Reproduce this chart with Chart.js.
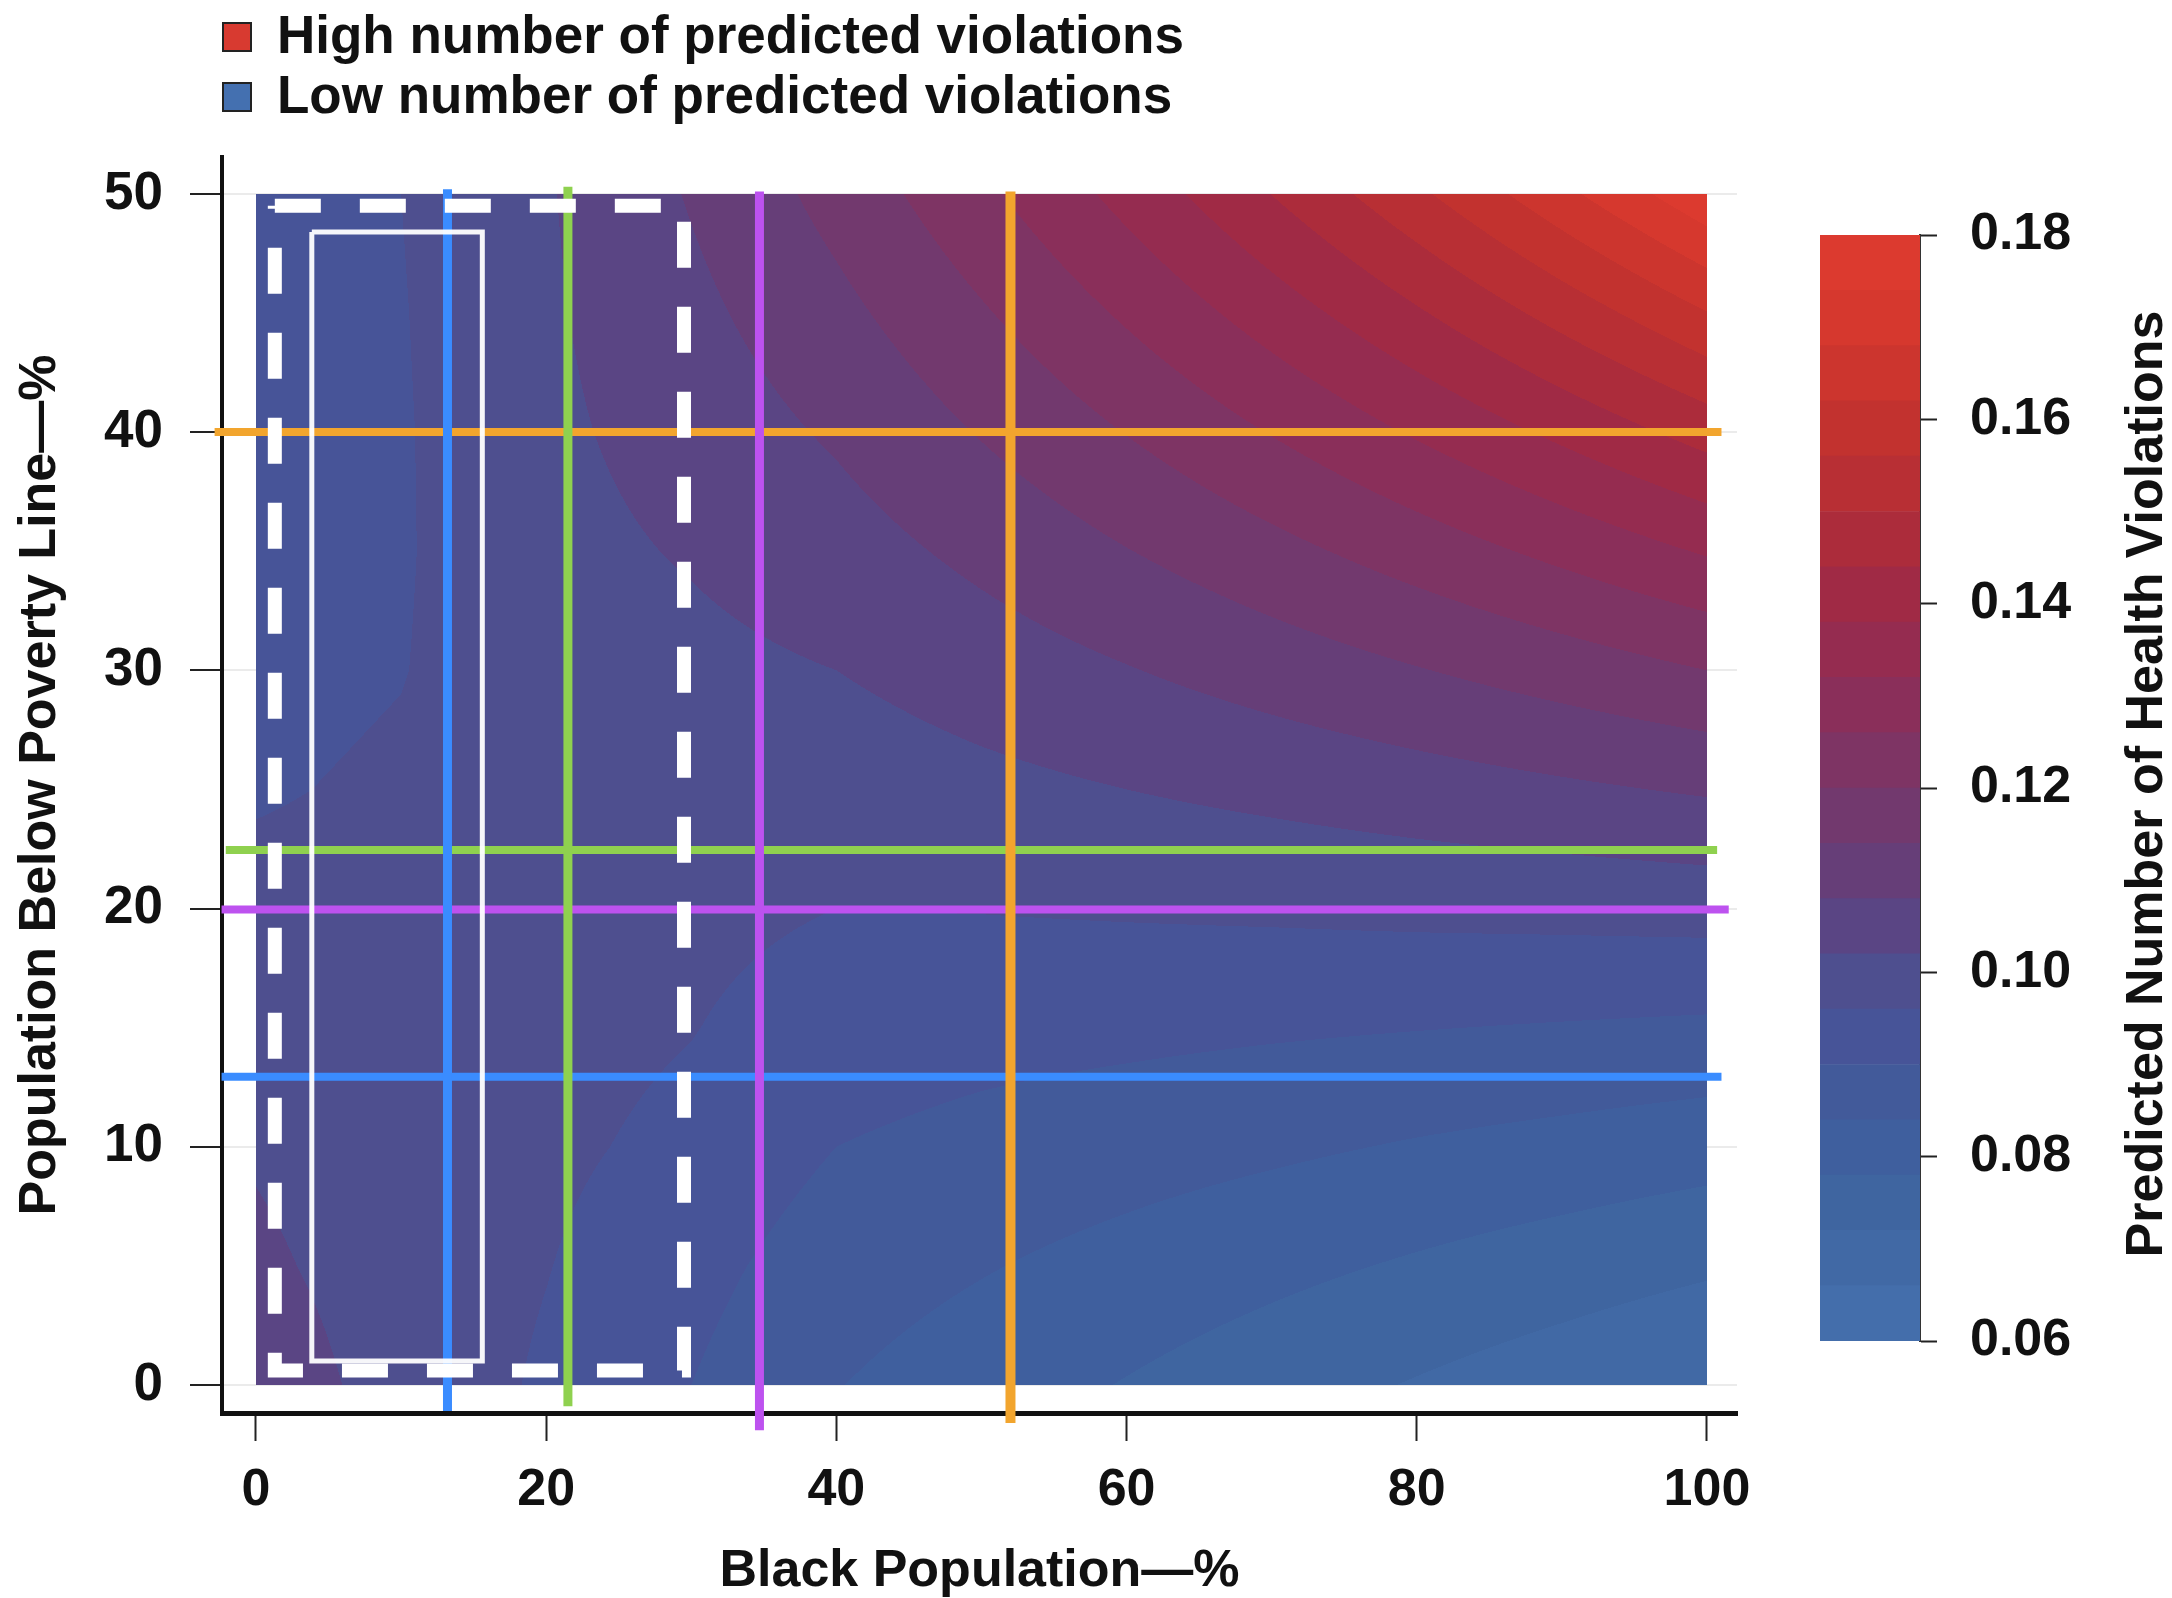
<!DOCTYPE html>
<html><head><meta charset="utf-8">
<script src="https://cdn.jsdelivr.net/npm/chart.js@4.4.1/dist/chart.umd.min.js"></script>
<style>
html,body{margin:0;padding:0;background:#fff;width:2172px;height:1598px;overflow:hidden;}
#main{position:absolute;left:0;top:0;}
#cbar{position:absolute;left:1780px;top:0;}
</style></head><body>
<canvas id="main" width="2172" height="1598"></canvas>
<canvas id="cbar" width="392" height="1598"></canvas>
<script>
// ---------- text ----------
const legendLabels = ['High number of predicted violations', 'Low number of predicted violations'];
const xTitle = 'Black Population\u2014%';
const yTitle = 'Population Below Poverty Line\u2014%';
const colorbarTitle = 'Predicted Number of Health Violations';

// ---------- ticks ----------
const xTickValues = [0, 20, 40, 60, 80, 100];
const yTickValues = [0, 10, 20, 30, 40, 50];
const colorbarTicks = [0.06, 0.08, 0.10, 0.12, 0.14, 0.16, 0.18];

// ---------- predicted surface ----------
const blackPctGrid = [0, 10, 20, 30, 40, 50, 60, 70, 80, 90, 100];
const povertyPctGrid = [0, 5, 10, 15, 20, 25, 30, 35, 40, 45, 50];
const predAtPov0  = [0.1050, 0.1000, 0.0952, 0.0900, 0.0842, 0.0809, 0.0777, 0.0746, 0.0716, 0.0688, 0.0660];
const predAtPov5  = [0.1030, 0.0995, 0.0962, 0.0920, 0.0869, 0.0844, 0.0820, 0.0796, 0.0773, 0.0751, 0.0729];
const predAtPov10 = [0.1015, 0.0990, 0.0972, 0.0945, 0.0900, 0.0882, 0.0866, 0.0851, 0.0835, 0.0821, 0.0806];
const predAtPov15 = [0.0995, 0.0985, 0.0980, 0.0962, 0.0932, 0.0921, 0.0915, 0.0908, 0.0902, 0.0896, 0.0890];
const predAtPov20 = [0.0975, 0.0978, 0.0985, 0.0975, 0.0960, 0.0962, 0.0966, 0.0970, 0.0975, 0.0979, 0.0984];
const predAtPov25 = [0.0955, 0.0968, 0.0990, 0.0990, 0.0986, 0.1004, 0.1020, 0.1036, 0.1053, 0.1070, 0.1087];
const predAtPov30 = [0.0945, 0.0958, 0.0995, 0.1005, 0.1020, 0.1049, 0.1077, 0.1107, 0.1137, 0.1168, 0.1200];
const predAtPov35 = [0.0940, 0.0955, 0.1002, 0.1025, 0.1054, 0.1095, 0.1138, 0.1182, 0.1228, 0.1276, 0.1326];
const predAtPov40 = [0.0938, 0.0955, 0.1008, 0.1045, 0.1088, 0.1144, 0.1202, 0.1263, 0.1327, 0.1394, 0.1465];
const predAtPov45 = [0.0936, 0.0957, 0.1012, 0.1065, 0.1124, 0.1194, 0.1269, 0.1349, 0.1433, 0.1523, 0.1618];
const predAtPov50 = [0.0935, 0.0960, 0.1015, 0.1085, 0.1161, 0.1247, 0.1340, 0.1441, 0.1548, 0.1664, 0.1788];
const predictedGrid = [predAtPov0, predAtPov5, predAtPov10, predAtPov15, predAtPov20, predAtPov25,
                       predAtPov30, predAtPov35, predAtPov40, predAtPov45, predAtPov50];

// ---------- contour levels ----------
const levelBreaks = [0.060, 0.066, 0.072, 0.078, 0.084, 0.090, 0.096, 0.102, 0.108, 0.114, 0.120,
                     0.126, 0.132, 0.138, 0.144, 0.150, 0.156, 0.162, 0.168, 0.174, 0.180];
const bandColors = ['#446eab', '#4169a5', '#3f65a0', '#3f5f9e', '#425a9a', '#475498', '#4e4f8f', '#5a4584',
                    '#663e78', '#72396e', '#7e3464', '#8a2f5a', '#952c50', '#a02a45', '#ac2c3b', '#b82f34',
                    '#c2322f', '#cc352e', '#d6382e', '#dc3a2f'];
const legendColors = ['#d83a30', '#4470b0'];

// ---------- reference lines ----------
const refColors = ['#3a8cff', '#8fd14f', '#bd52ef', '#f2a52e'];
const vLineX = [13.2, 21.5, 34.7, 52.0];
const vLineYStart = [-1.1, -0.9, -1.9, -1.6];
const vLineYEnd = [50.2, 50.3, 50.1, 50.1];
const hLineY = [12.94, 22.46, 19.96, 40];
const hLineXStart = [-2.37, -2.08, -2.37, -2.85];
const hLineXEnd = [101.0, 100.7, 101.5, 101.0];

// ---------- highlighted boxes ----------
const dashedBoxX = [1.3, 29.5];
const dashedBoxY = [0.6, 49.5];
const thinBoxX = [3.85, 15.6];
const thinBoxY = [1.0, 48.4];

// =====================================================
const FONT = "'Liberation Sans', Arial, Helvetica, sans-serif";
Chart.defaults.font.family = FONT;
Chart.defaults.font.weight = 'bold';
Chart.defaults.color = '#111';

function hexToRgb(h) {
  const n = parseInt(h.slice(1), 16);
  return [(n >> 16) & 255, (n >> 8) & 255, n & 255];
}
const bandRgb = bandColors.map(hexToRgb);

function findCell(arr, v) {
  let i = 0;
  while (i < arr.length - 2 && v > arr[i + 1]) i++;
  return i;
}
function sampleSurface(xv, yv) {
  const i = findCell(blackPctGrid, xv), j = findCell(povertyPctGrid, yv);
  let tx = (xv - blackPctGrid[i]) / (blackPctGrid[i + 1] - blackPctGrid[i]);
  let ty = (yv - povertyPctGrid[j]) / (povertyPctGrid[j + 1] - povertyPctGrid[j]);
  tx = Math.min(1, Math.max(0, tx)); ty = Math.min(1, Math.max(0, ty));
  const l00 = Math.log(predictedGrid[j][i]), l10 = Math.log(predictedGrid[j][i + 1]);
  const l01 = Math.log(predictedGrid[j + 1][i]), l11 = Math.log(predictedGrid[j + 1][i + 1]);
  return Math.exp((1 - tx) * (1 - ty) * l00 + tx * (1 - ty) * l10 + (1 - tx) * ty * l01 + tx * ty * l11);
}
function bandIndex(v) {
  let k = 0;
  while (k < levelBreaks.length - 2 && v >= levelBreaks[k + 1]) k++;
  return k;
}

const heatmapPlugin = {
  id: 'heatmap',
  beforeDatasetsDraw(chart) {
    const ctx = chart.ctx, xs = chart.scales.x, ys = chart.scales.y;
    const px0 = Math.round(xs.getPixelForValue(blackPctGrid[0]));
    const px1 = Math.round(xs.getPixelForValue(blackPctGrid[blackPctGrid.length - 1]));
    const py0 = Math.round(ys.getPixelForValue(povertyPctGrid[povertyPctGrid.length - 1]));
    const py1 = Math.round(ys.getPixelForValue(povertyPctGrid[0]));
    const w = px1 - px0, h = py1 - py0;
    const img = ctx.createImageData(w, h);
    const colVals = [], rowVals = [];
    for (let i = 0; i < w; i++) colVals.push(xs.getValueForPixel(px0 + i + 0.5));
    for (let j = 0; j < h; j++) rowVals.push(ys.getValueForPixel(py0 + j + 0.5));
    let p = 0;
    for (let j = 0; j < h; j++) {
      for (let i = 0; i < w; i++) {
        const c = bandRgb[bandIndex(sampleSurface(colVals[i], rowVals[j]))];
        img.data[p++] = c[0]; img.data[p++] = c[1]; img.data[p++] = c[2]; img.data[p++] = 255;
      }
    }
    ctx.putImageData(img, px0, py0);
  }
};

const legendPlugin = {
  id: 'customLegend',
  afterDraw(chart) {
    const ctx = chart.ctx;
    const rows = [37, 97];
    ctx.save();
    ctx.font = 'bold 53px ' + FONT;
    ctx.textBaseline = 'middle';
    ctx.textAlign = 'left';
    legendLabels.forEach((t, i) => {
      ctx.fillStyle = legendColors[i];
      ctx.fillRect(223, rows[i] - 14, 28, 28);
      ctx.strokeStyle = '#222'; ctx.lineWidth = 2;
      ctx.strokeRect(223, rows[i] - 14, 28, 28);
      ctx.fillStyle = '#111';
      ctx.fillText(t, 277, rows[i] + 1);
    });
    ctx.restore();
  }
};

const datasets = [];
vLineX.forEach((x, i) => datasets.push({
  data: [{x: x, y: vLineYStart[i]}, {x: x, y: vLineYEnd[i]}],
  borderColor: refColors[i], borderWidth: i === 3 ? 10 : 9, order: 1
}));
hLineY.forEach((y, i) => datasets.push({
  data: [{x: hLineXStart[i], y: y}, {x: hLineXEnd[i], y: y}],
  borderColor: refColors[i], borderWidth: 8, order: 2
}));
datasets.push({
  data: [{x: dashedBoxX[0], y: dashedBoxY[1]}, {x: dashedBoxX[1], y: dashedBoxY[1]},
         {x: dashedBoxX[1], y: dashedBoxY[0]}, {x: dashedBoxX[0], y: dashedBoxY[0]},
         {x: dashedBoxX[0], y: dashedBoxY[1]}],
  borderColor: '#ffffff', borderWidth: 14, borderDash: [46, 39], order: 0
});
datasets.push({
  data: [{x: thinBoxX[0], y: thinBoxY[1]}, {x: thinBoxX[1], y: thinBoxY[1]},
         {x: thinBoxX[1], y: thinBoxY[0]}, {x: thinBoxX[0], y: thinBoxY[0]},
         {x: thinBoxX[0], y: thinBoxY[1]}],
  borderColor: 'rgba(255,255,255,0.95)', borderWidth: 5, borderJoinStyle: 'miter', order: 0
});
datasets.forEach(d => Object.assign(d, {
  type: 'line', pointRadius: 0, fill: false, tension: 0, clip: false, borderCapStyle: 'butt'
}));

new Chart(document.getElementById('main'), {
  type: 'line',
  data: { datasets },
  plugins: [heatmapPlugin, legendPlugin],
  options: {
    responsive: false, animation: false, events: [],
    layout: { padding: { top: 157, right: 435, left: 0, bottom: 0 } },
    plugins: { legend: { display: false }, tooltip: { enabled: false } },
    scales: {
      x: {
        type: 'linear', min: -2.34, max: 102.07,
        afterBuildTicks: s => { s.ticks = xTickValues.map(v => ({ value: v })); },
        ticks: { font: { size: 52, weight: 'bold' }, color: '#111', padding: 18, maxRotation: 0, autoSkip: false },
        grid: { drawOnChartArea: false, tickLength: 28, tickColor: '#222', tickWidth: 2 },
        border: { color: '#111', width: 5 },
        title: { display: true, text: xTitle, font: { size: 52, weight: 'bold' }, color: '#111', padding: { top: 0, bottom: -5 } },
        afterFit: s => { s.height = 185; }
      },
      y: {
        type: 'linear', min: -1.18, max: 51.55,
        afterBuildTicks: s => { s.ticks = yTickValues.map(v => ({ value: v })); },
        ticks: { font: { size: 53, weight: 'bold' }, color: '#111', padding: 27, autoSkip: false },
        grid: { color: '#ebebeb', lineWidth: 2, tickLength: 32, tickColor: '#222', tickWidth: 2 },
        border: { color: '#111', width: 4 },
        title: { display: true, text: yTitle, font: { size: 52, weight: 'bold' }, color: '#111', padding: { top: 9, bottom: 0 } },
        afterFit: s => { s.width = 222; }
      }
    }
  }
});

// ---------- colour bar ----------
const cbarTitlePlugin = {
  id: 'cbarTitle',
  afterDraw(chart) {
    const ctx = chart.ctx, a = chart.chartArea;
    ctx.save();
    ctx.translate(368, (a.top + a.bottom) / 2 - 4);
    ctx.rotate(-Math.PI / 2);
    ctx.font = 'bold 52px ' + FONT;
    ctx.fillStyle = '#111';
    ctx.textAlign = 'center';
    ctx.textBaseline = 'middle';
    ctx.fillText(colorbarTitle, 0, 0);
    ctx.restore();
  }
};
const cbarDatasets = bandColors.map((c, k) => ({
  data: [[levelBreaks[k], levelBreaks[k + 1]]],
  backgroundColor: c, borderWidth: 0, grouped: false,
  barPercentage: 1, categoryPercentage: 1
}));
new Chart(document.getElementById('cbar'), {
  type: 'bar',
  data: { labels: [''], datasets: cbarDatasets },
  plugins: [cbarTitlePlugin],
  options: {
    responsive: false, animation: false, events: [],
    layout: { padding: { left: 40, top: 235, bottom: 257, right: 0 } },
    plugins: { legend: { display: false }, tooltip: { enabled: false } },
    scales: {
      x: { display: false },
      y: {
        position: 'right', min: 0.06, max: 0.18,
        afterBuildTicks: s => { s.ticks = colorbarTicks.map(v => ({ value: v })); },
        ticks: { font: { size: 52, weight: 'bold' }, color: '#111', padding: 33, callback: v => Number(v).toFixed(2) },
        grid: { drawOnChartArea: false, tickLength: 17, tickColor: '#222', tickWidth: 2 },
        border: { color: '#333', width: 2 },
        afterFit: s => { s.width = 252; }
      }
    }
  }
});
</script></body></html>
